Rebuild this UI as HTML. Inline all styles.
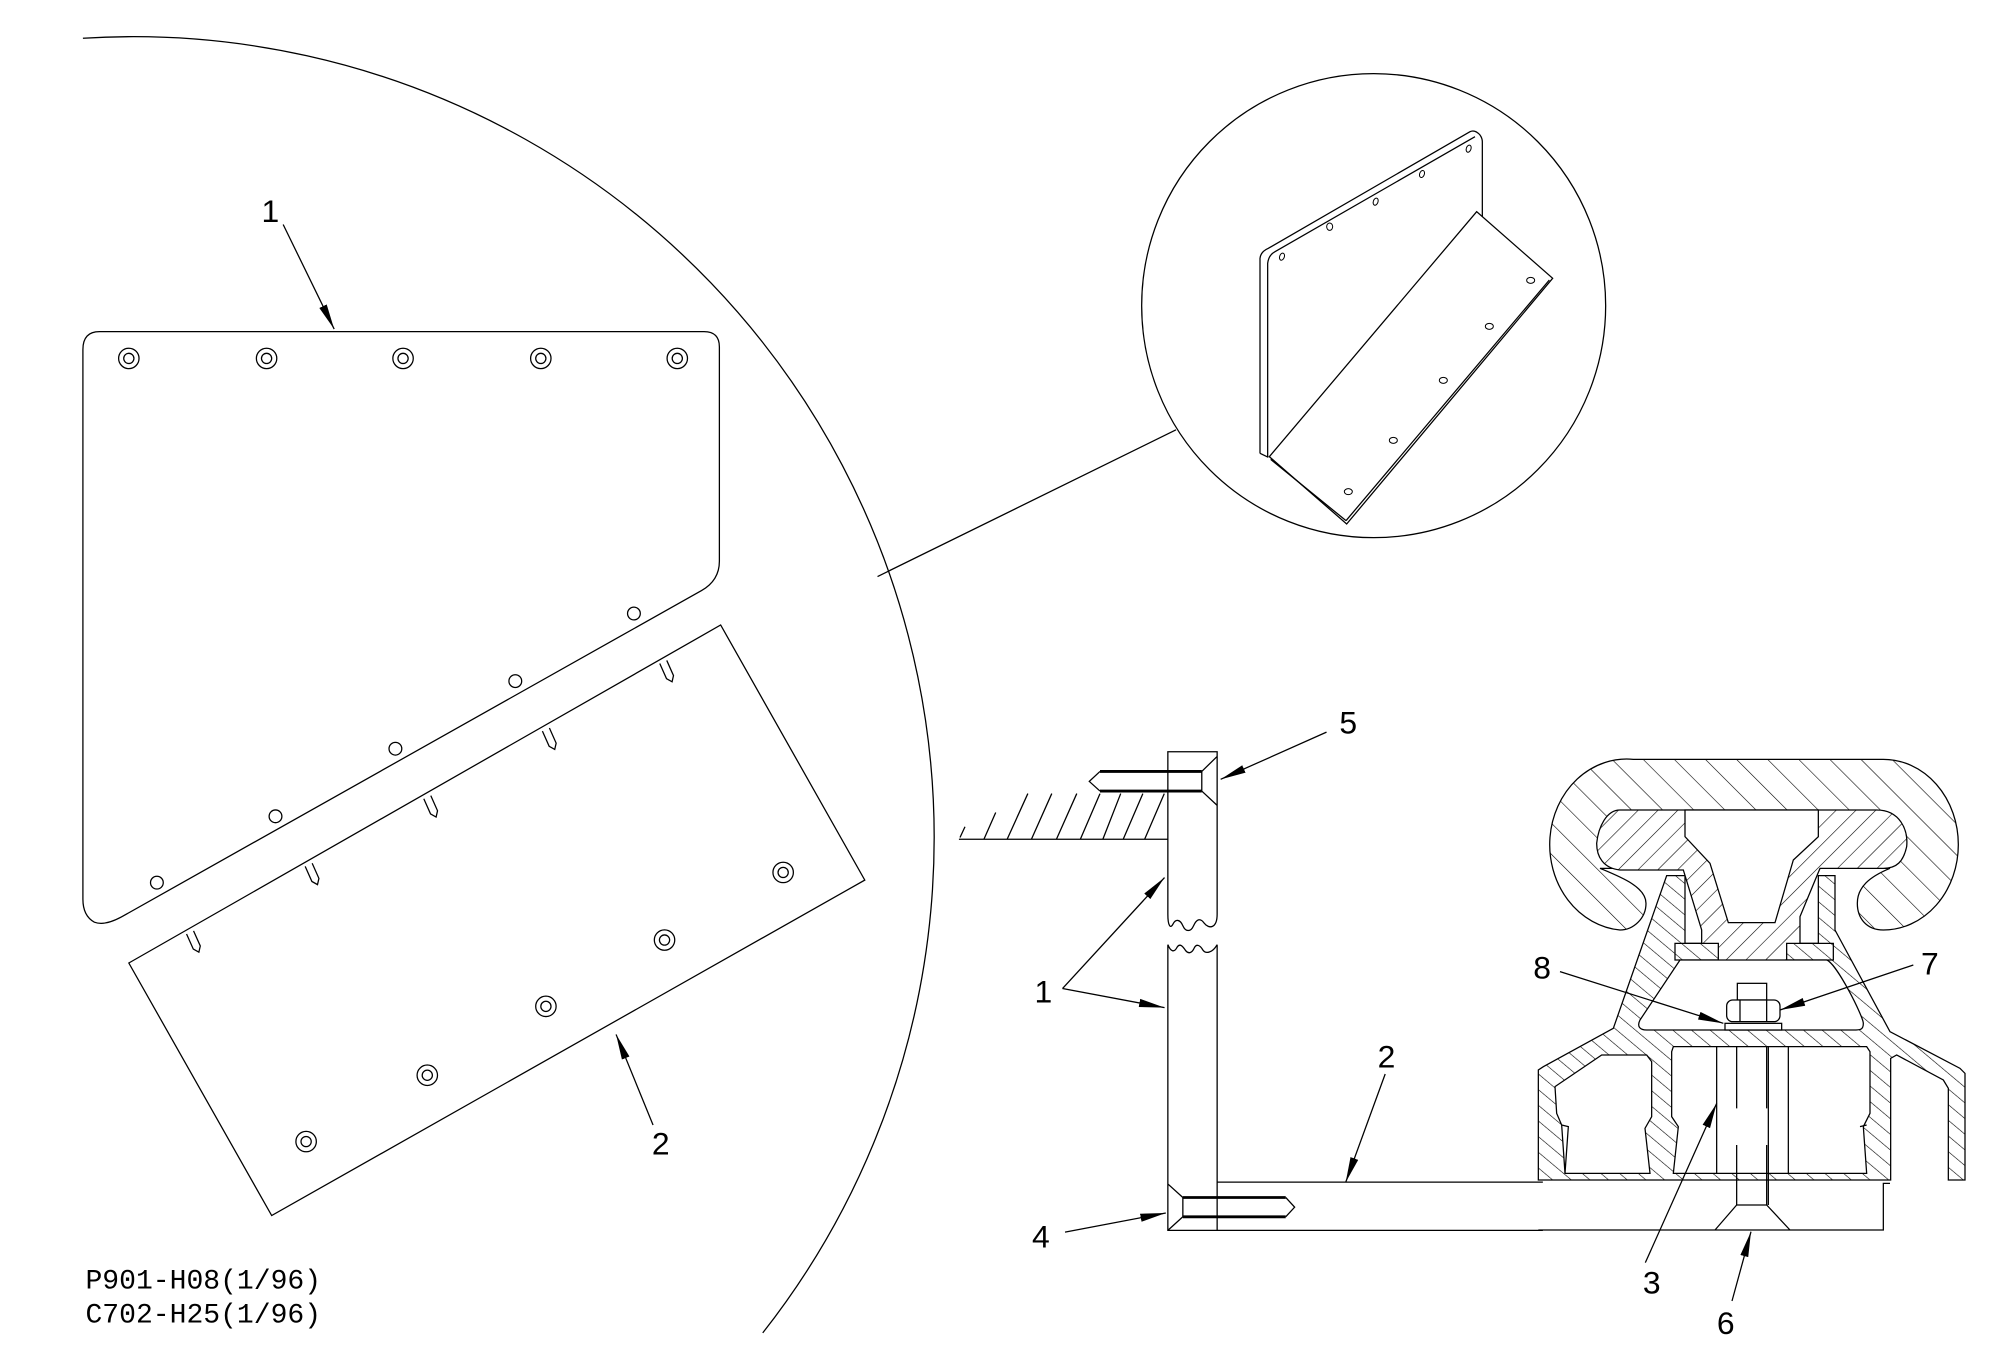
<!DOCTYPE html>
<html><head><meta charset="utf-8"><style>html,body{margin:0;padding:0;background:#fff}svg{display:block}</style></head><body>
<svg width="2000" height="1366" viewBox="0 0 2000 1366" xmlns="http://www.w3.org/2000/svg">
<defs>
<marker id="ah" markerUnits="strokeWidth" markerWidth="22" markerHeight="10" refX="20" refY="4" orient="auto"><path d="M0,0.8 L20,4 L0,7.2 Z" fill="#000"/></marker>
<pattern id="hR" patternUnits="userSpaceOnUse" width="66" height="66" patternTransform="rotate(-45)"><rect width="66" height="66" fill="#fff"/><line x1="0" y1="0" x2="0" y2="66" stroke="#000" stroke-width="3.5"/></pattern>
<pattern id="hS" patternUnits="userSpaceOnUse" width="42" height="42" patternTransform="rotate(45)"><rect width="42" height="42" fill="#fff"/><line x1="0" y1="0" x2="0" y2="42" stroke="#000" stroke-width="3.5"/></pattern>
<pattern id="hB" patternUnits="userSpaceOnUse" width="36" height="36" patternTransform="rotate(-50)"><rect width="36" height="36" fill="#fff"/><line x1="0" y1="0" x2="0" y2="36" stroke="#000" stroke-width="3.5"/></pattern>
</defs>
<rect width="2000" height="1366" fill="#fff"/>

<g transform="scale(1.2755)" fill="none" stroke="#000" stroke-width="1">
<path d="M65,30 A628,628 0 0 1 598,1045"/>
<line x1="688" y1="452" x2="922" y2="337"/>
<path d="M78,260 H552 Q564,260 564,272 V440 Q564,455 550,463 L95,719 Q82,726 74,723 Q65,718 65,705 V274 Q65,260 78,260 Z"/>
<g>
<circle cx="101" cy="281" r="8"/><circle cx="101" cy="281" r="4"/>
<circle cx="209" cy="281" r="8"/><circle cx="209" cy="281" r="4"/>
<circle cx="316" cy="281" r="8"/><circle cx="316" cy="281" r="4"/>
<circle cx="424" cy="281" r="8"/><circle cx="424" cy="281" r="4"/>
<circle cx="531" cy="281" r="8"/><circle cx="531" cy="281" r="4"/>
<circle cx="123" cy="692" r="5"/><circle cx="216" cy="640" r="5"/><circle cx="310" cy="587" r="5"/><circle cx="404" cy="534" r="5"/><circle cx="497" cy="481" r="5"/>
</g>
<path d="M101,755 L565,490 L678,690 L213,953 Z"/>
<g>
<circle cx="240" cy="895" r="8"/><circle cx="240" cy="895" r="4"/>
<circle cx="335" cy="843" r="8"/><circle cx="335" cy="843" r="4"/>
<circle cx="428" cy="789" r="8"/><circle cx="428" cy="789" r="4"/>
<circle cx="521" cy="737" r="8"/><circle cx="521" cy="737" r="4"/>
<circle cx="614" cy="684" r="8"/><circle cx="614" cy="684" r="4"/>
</g>
<g>
<path transform="translate(149,731) rotate(-24)" d="M-3,0 V13 L0,17 L3,13 V0"/>
<path transform="translate(242,678) rotate(-24)" d="M-3,0 V13 L0,17 L3,13 V0"/>
<path transform="translate(335,625) rotate(-24)" d="M-3,0 V13 L0,17 L3,13 V0"/>
<path transform="translate(428,572) rotate(-24)" d="M-3,0 V13 L0,17 L3,13 V0"/>
<path transform="translate(520,519) rotate(-24)" d="M-3,0 V13 L0,17 L3,13 V0"/>
</g>
<line x1="222" y1="176" x2="262" y2="258" marker-end="url(#ah)"/>
<line x1="512" y1="882" x2="483" y2="811" marker-end="url(#ah)"/>
<line x1="1040" y1="574" x2="957" y2="611" marker-end="url(#ah)"/>
<line x1="833" y1="775" x2="913" y2="688" marker-end="url(#ah)"/>
<line x1="833" y1="775" x2="913" y2="790" marker-end="url(#ah)"/>
<line x1="1086" y1="842" x2="1055" y2="927" marker-end="url(#ah)"/>
<line x1="835" y1="966" x2="914" y2="951" marker-end="url(#ah)"/>
<g fill="#000" stroke="none" font-family="'Liberation Sans', sans-serif" font-size="25" text-anchor="middle">
<text x="212" y="174">1</text>
<text x="518" y="905">2</text>
<text x="1057" y="575">5</text>
<text x="818" y="786">1</text>
<text x="1087" y="837">2</text>
<text x="816" y="978">4</text>
<text x="1209" y="767">8</text>
<text x="1513" y="764">7</text>
<text x="1295" y="1014">3</text>
<text x="1353" y="1046">6</text>
</g>
<g fill="#000" stroke="none" font-family="'Liberation Mono', monospace" font-size="22">
<text x="67" y="1010">P901-H08(1/96)</text>
<text x="67" y="1037">C702-H25(1/96)</text>
</g>
</g>

<g transform="translate(1140,70) scale(0.33333)" fill="none" stroke="#000" stroke-width="3.8">
<circle cx="701" cy="707" r="696" fill="#fff"/>
<path d="M360,1150 V565 Q362,545 385,535 L990,185 Q1005,178 1020,195 Q1027,205 1027,215 V440"/>
<path d="M383,1162 V580 Q386,555 405,545 L1005,200"/>
<line x1="360" y1="1150" x2="385" y2="1162"/>
<path d="M388,1160 L1010,425 L1238,625 L620,1362 Z"/>
<line x1="392" y1="1168" x2="618" y2="1352"/>
<line x1="1228" y1="630" x2="618" y2="1352"/>
<g stroke-width="3">
<ellipse cx="426" cy="560" rx="7" ry="11" transform="rotate(20 426 560)"/>
<ellipse cx="569" cy="470" rx="9" ry="11"/>
<ellipse cx="707" cy="395" rx="7" ry="11" transform="rotate(20 707 395)"/>
<ellipse cx="846" cy="312" rx="7" ry="11" transform="rotate(20 846 312)"/>
<ellipse cx="986" cy="236" rx="7" ry="11" transform="rotate(20 986 236)"/>
<ellipse cx="1172" cy="631" rx="12" ry="9"/>
<ellipse cx="1048" cy="769" rx="12" ry="9"/>
<ellipse cx="910" cy="931" rx="12" ry="9"/>
<ellipse cx="760" cy="1111" rx="12" ry="9"/>
<ellipse cx="625" cy="1265" rx="12" ry="9"/>
</g>
</g>

<g transform="translate(950,700) scale(0.35714)" fill="none" stroke="#000" stroke-width="3.6">
<line x1="25" y1="390" x2="610" y2="390"/>
<path d="M28,385 L42,355 M95,390 L128,315 M160,390 L218,262 M228,390 L285,262 M298,390 L355,262 M365,390 L420,262 M428,390 L478,262 M485,390 L540,262 M545,390 L600,262"/>
<path d="M610,600 V145 H748 V600 C748,640 725,642 712,625 C700,608 690,615 682,632 C674,650 660,650 652,632 C644,614 632,612 624,628 C618,640 610,635 610,600"/>
<path d="M610,685 C618,705 628,708 636,692 C644,680 652,690 660,702 C668,712 678,708 684,694 C690,682 700,686 708,700 C716,712 735,708 748,685 M610,685 V1485 H1660 M748,685 V1485 M748,1350 H1660"/>
<path d="M420,200 L390,228 L420,255"/>
<path d="M420,200 H705 M420,255 H705" stroke-width="8"/>
<path d="M705,200 V255 M705,200 L748,158 M705,255 L748,295"/>
<path d="M940,1393 L965,1420 L940,1447 M652,1393 V1447 M610,1355 L652,1393 M610,1485 L652,1447"/>
<path d="M652,1393 H940 M652,1447 H940" stroke-width="8"/>
</g>

<g transform="translate(1520,730) scale(0.33333)" fill="none" stroke="#000" stroke-width="3.8">
<path fill="url(#hR)" d="M340,88 H1090 A225,256 0 0 1 1090,600 C1040,600 1012,565 1012,520 C1012,470 1050,440 1110,415 H240 C300,440 378,470 378,520 C378,565 340,600 300,600 A230,256 0 0 1 340,88 Z"/>
<path fill="url(#hB)" d="M440,437 H495 V640 H800 V640 H895 V437 H945 V600 L1110,905 L1320,1015 L1335,1030 V1350 H1285 V1075 L1270,1050 L1130,975 L1112,985 V1350 H55 V1020 L70,1010 L280,895 Z"/>
<path fill="url(#hS)" d="M300,240 H1070 C1140,240 1165,300 1160,350 C1150,395 1130,415 1090,415 H900 L840,560 V740 H545 V600 L490,420 H300 C250,415 230,380 230,340 C235,290 260,240 300,240 Z"/>
<path fill="url(#hB)" d="M465,640 H595 V690 H465 Z M800,640 H940 V690 H800 Z"/>
<path fill="#fff" d="M495,240 H895 V320 L820,390 L765,578 H625 L570,400 L495,320 Z"/>
<path fill="#fff" d="M480,690 H920 C950,700 1030,860 1030,880 C1030,900 1020,900 1000,900 H380 C360,900 350,890 360,870 Z"/>
<path fill="#fff" d="M105,1070 L245,975 H380 L395,995 V1160 L375,1195 L390,1330 H135 L125,1185 L110,1150 Z"/>
<path fill="#fff" d="M455,965 L460,950 H1040 L1050,965 V1150 L1030,1190 L1040,1330 H460 L475,1190 L455,1160 Z"/>
<path d="M125,1185 L145,1190 L135,1330 M1020,1190 L1040,1185"/>
<rect x="652" y="760" width="88" height="50" fill="#fff"/>
<rect x="620" y="810" width="160" height="65" rx="18" fill="#fff"/>
<path d="M660,810 V875 M740,810 V875"/>
<rect x="615" y="880" width="170" height="20" fill="#fff"/>
<path d="M590,950 V1330 M805,950 V1330 M650,950 V1135 M650,1245 V1425 M740,950 V1135 M740,1245 V1425 M745,950 V1425"/>
<path d="M1110,1360 H1090 V1500 H55 M585,1500 L650,1425 H740 L810,1500"/>
<line x1="120" y1="725" x2="610" y2="880" marker-end="url(#ah)"/>
<line x1="1180" y1="705" x2="780" y2="840" marker-end="url(#ah)"/>
<line x1="376" y1="1598" x2="590" y2="1120" marker-end="url(#ah)"/>
<line x1="636" y1="1713" x2="693" y2="1505" marker-end="url(#ah)"/>
</g>
</svg>
</body></html>
